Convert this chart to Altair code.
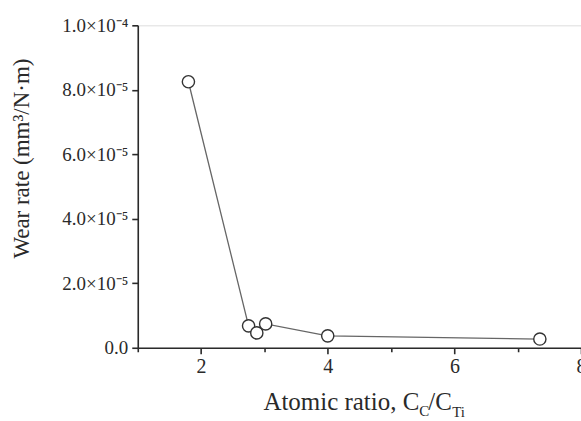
import altair as alt
import pandas as pd

# ---- data ----
ratio = [1.8, 2.75, 2.88, 3.02, 4.0, 7.35]
wear = [8.25e-5, 0.68e-5, 0.46e-5, 0.74e-5, 0.37e-5, 0.27e-5]
x_ticks = [1, 2, 3, 4, 5, 6, 7, 8]
y_ticks = [0, 1e-5, 2e-5, 3e-5, 4e-5, 5e-5, 6e-5, 7e-5, 8e-5, 9e-5, 1e-4]
y_title = "Wear rate (mm³/N·m)"
x_title_main = "Atomic ratio, C"
x_title_sub1 = "C"
x_title_mid = "/C"
x_title_sub2 = "Ti"

df = pd.DataFrame({"ratio": ratio, "wear": wear})
one = pd.DataFrame({"k": [0]})

W, H = 444, 323
FONT = "Liberation Serif"
INK = "#2a2a2a"

x_enc = alt.X(
    "ratio:Q",
    scale=alt.Scale(domain=[1, 8], nice=False, zero=False),
    axis=alt.Axis(
        values=x_ticks,
        labelExpr="datum.value % 2 === 0 ? format(datum.value, 'd') : ''",
        tickSize={"condition": {"test": "datum.value % 2 === 0", "value": 6}, "value": 4},
        grid=False, title=None,
        labelFont=FONT, labelFontSize=20, labelColor=INK, labelPadding=3,
        domainColor=INK, tickColor=INK, domainWidth=1.6, tickWidth=1.6,
        labelOverlap=False, labelFlush=False, labelBound=False,
    ),
)
y_enc = alt.Y(
    "wear:Q",
    scale=alt.Scale(domain=[0, 1e-4], nice=False),
    axis=alt.Axis(
        values=y_ticks,
        labelExpr=(
            "datum.value == 0 ? '0.0' : "
            "(round(datum.value*1e5) % 2 === 1 ? '' : "
            "(datum.value > 9.9e-5 ? '1.0×10⁻⁴' : format(datum.value*1e5, '.1f') + '×10⁻⁵'))"
        ),
        tickSize={"condition": {"test": "round(datum.value*1e5) % 2 === 0", "value": 6}, "value": 4},
        grid=False, title=y_title,
        titleFont=FONT, titleFontSize=23, titleFontWeight="normal", titleColor=INK,
        titleX=-104, titleY=133,
        labelFont=FONT, labelFontSize=19, labelColor=INK, labelPadding=4,
        domainColor=INK, tickColor=INK, domainWidth=1.6, tickWidth=1.6,
        labelOverlap=False, labelFlush=False,
    ),
)

base = alt.Chart(df)
line = base.mark_line(color="#666666", strokeWidth=1.3).encode(x=x_enc, y=y_enc, order="ratio:Q")
pts = base.mark_point(
    shape="circle", filled=True, fill="white", stroke="#333333",
    strokeWidth=1.4, size=150, opacity=1,
).encode(x="ratio:Q", y="wear:Q")

def txt(s, x, y, size, align):
    return alt.Chart(one).mark_text(
        font=FONT, fontSize=size, color=INK, align=align, baseline="alphabetic"
    ).encode(x=alt.value(x), y=alt.value(y), text=alt.value(s))

t_main = txt(x_title_main, 282, 385, 25, "right")
t_sub1 = txt(x_title_sub1, 282, 391, 15, "left")
t_mid = txt(x_title_mid, 291, 385, 25, "left")
t_sub2 = txt(x_title_sub2, 315, 392, 15, "left")

chart = alt.layer(line, pts, t_main, t_sub1, t_mid, t_sub2).properties(
    width=W, height=H,
    autosize=alt.AutoSizeParams(type="none"),
    padding={"left": 138, "top": 25, "right": 0, "bottom": 73},
).configure_view(stroke=None).configure(background="white")

chart.save("out.html", embed_options={"renderer": "svg", "actions": False})
